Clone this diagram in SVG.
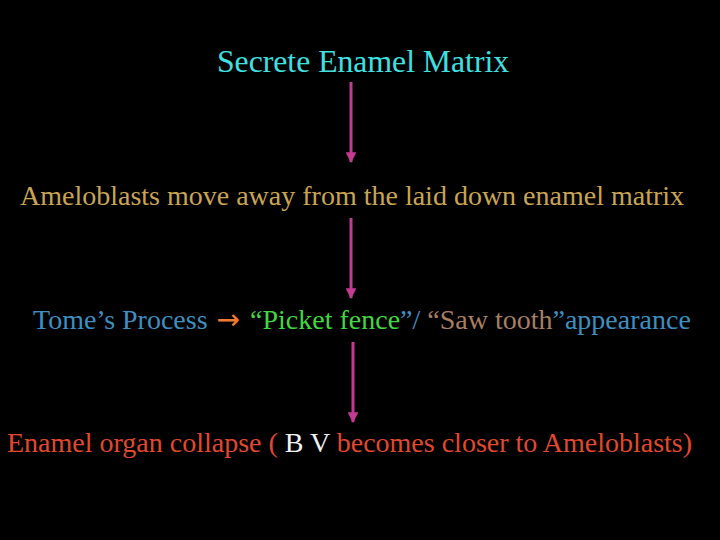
<svg xmlns="http://www.w3.org/2000/svg" width="720" height="540" viewBox="0 0 720 540">
<style>
.conn{stroke:#c23a92;stroke-width:3;fill:none;}
</style>
<defs>
<marker id="ah" viewBox="0 0 10 10" refX="9" refY="5" markerWidth="3.6" markerHeight="3.6" orient="auto" markerUnits="strokeWidth">
<path d="M0,0 L10,5 L0,10 Z" fill="#c23a92"/>
</marker>
</defs>
<rect width="720" height="540" fill="#000"/>
<g id="connectors">
<line class="conn" x1="351" y1="82" x2="351" y2="162" marker-end="url(#ah)"/>
<line class="conn" x1="351" y1="218" x2="351" y2="298" marker-end="url(#ah)"/>
<line class="conn" x1="353" y1="342" x2="353" y2="422" marker-end="url(#ah)"/>
</g>
<g id="n1"><text font-family="'Liberation Serif', serif" x="217" y="72" font-size="31.7" fill="#3fe0e0">Secrete Enamel Matrix</text></g>
<g id="n2"><text font-family="'Liberation Serif', serif" x="20" y="205" font-size="28" fill="#c9a551">Ameloblasts move away from the laid down enamel matrix</text></g>
<g id="n3"><text font-family="'Liberation Serif', serif" x="33" y="329" font-size="28" fill="#3c8fc0">Tome’s Process <tspan dx="2" fill="#f07a30" font-family="'DejaVu Sans', sans-serif" font-size="28">→</tspan><tspan dx="3"> </tspan><tspan fill="#3fd83f">“Picket fence</tspan>”/ <tspan fill="#a87e62">“Saw tooth</tspan>”appearance</text></g>
<g id="n4"><text font-family="'Liberation Serif', serif" x="7" y="452" font-size="28" fill="#e2482c">Enamel organ collapse ( <tspan fill="#f0f0f0">B V</tspan> becomes closer to Ameloblasts)</text></g>
</svg>
